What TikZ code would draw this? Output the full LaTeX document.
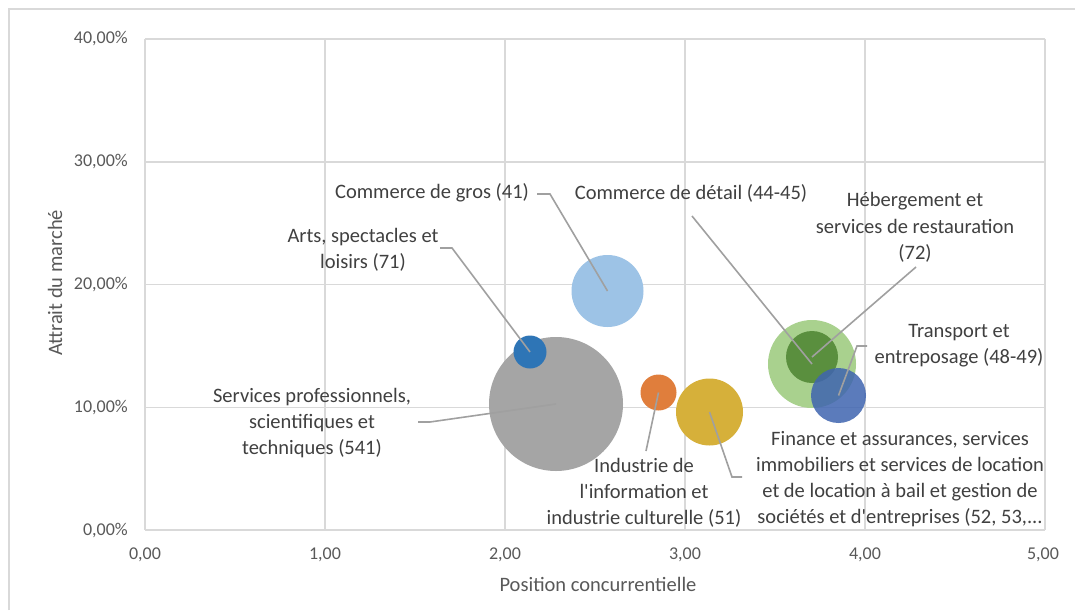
\documentclass[tikz,border=0pt]{standalone}
\usepackage{fontspec}
\setmainfont{Carlito}[Ligatures=TeXOff]
\definecolor{gridc}{HTML}{D9D9D9}
\definecolor{txtc}{HTML}{404040}
\definecolor{tickc}{HTML}{595959}
\definecolor{leadc}{HTML}{A0A0A0}
\definecolor{cLightBlue}{HTML}{9DC3E6}
\definecolor{cBlue}{HTML}{2E75B6}
\definecolor{cGray}{HTML}{A5A5A5}
\definecolor{cOrange}{HTML}{E07E3C}
\definecolor{cGold}{HTML}{D6B03A}
\definecolor{cLightGreen}{HTML}{A9D18E}
\definecolor{cDarkGreen}{HTML}{5A8F3E}
\definecolor{cDarkBlue}{HTML}{3F64B0}
\tikzset{
  gridline/.style={draw=gridc, line width=1.5pt},
  bubble/.style={circle, inner sep=0pt, draw=none},
  datalabel/.style={font=\fontsize{20.5}{26.2}\selectfont, text=txtc, align=center, inner sep=0pt},
  ticklabel/.style={font=\fontsize{18}{22}\selectfont, text=tickc, inner sep=0pt},
  axistitle/.style={font=\fontsize{20.5}{25}\selectfont, text=tickc, inner sep=0pt},
  leader/.style={draw=leadc, line width=1.6pt}
}
\begin{document}
\begin{tikzpicture}[x=1pt,y=-1pt]
\useasboundingbox (0,0) rectangle (1075,610);
\fill[white] (0,0) rectangle (1075,610);
% outer frame
\draw[gridc, line width=2pt] (9,610) -- (9,9) -- (1075,9);
% grid
\foreach \yy in {39,161.75,284.5,407.25,530} {
  \draw[gridline] (145,\yy) -- (1045,\yy);
}
\foreach \xx in {145,325,505,685,865,1045} {
  \draw[gridline] (\xx,39) -- (\xx,530);
}
% tick labels
\node[ticklabel, anchor=east] (y40) at (128,39) {40,00\%};
\node[ticklabel, anchor=east] (y30) at (128,162) {30,00\%};
\node[ticklabel, anchor=east] (y20) at (128,285) {20,00\%};
\node[ticklabel, anchor=east] (y10) at (128,408) {10,00\%};
\node[ticklabel, anchor=east] (y0) at (128,531) {0,00\%};
\node[ticklabel] (x0) at (145,555) {0,00};
\node[ticklabel] (x1) at (325,555) {1,00};
\node[ticklabel] (x2) at (505,555) {2,00};
\node[ticklabel] (x3) at (685,555) {3,00};
\node[ticklabel] (x4) at (865,555) {4,00};
\node[ticklabel] (x5) at (1043,555) {5,00};
\node[axistitle, rotate=90] (ytitle) at (55,283) {Attrait du marché};
\node[axistitle] (xtitle) at (598,584) {Position concurrentielle};
% bubbles
\node[bubble, fill=cLightBlue, minimum size=72pt] (bGros) at (607.5,291) {};
\node[bubble, fill=cGray, minimum size=134pt] (bServ) at (556,404) {};
\node[bubble, fill=cBlue, minimum size=33pt] (bArts) at (530,352) {};
\node[bubble, fill=cOrange, minimum size=36pt] (bInd) at (658.5,392.5) {};
\node[bubble, fill=cGold, minimum size=67pt] (bFin) at (709.5,412) {};
\node[bubble, fill=cLightGreen, minimum size=88pt] (bDet) at (812,364) {};
\node[bubble, fill=cDarkGreen, minimum size=52pt] (bHeb) at (812,357) {};
\node[bubble, fill=cDarkBlue, fill opacity=0.85, minimum size=55pt] (bTra) at (838.5,395.5) {};
% data labels
\node[datalabel] (lGros) at (432,193) {Commerce de gros (41)};
\node[datalabel] (lDet) at (691,193) {Commerce de détail (44-45)};
\node[datalabel] (lHeb) at (915,227.5) {Hébergement et\\services de restauration\\(72)};
\node[datalabel] (lArts) at (363,250) {Arts, spectacles et\\loisirs (71)};
\node[datalabel] (lTra) at (959,346) {Transport et\\entreposage (48-49)};
\node[datalabel] (lServ) at (312,423) {Services professionnels,\\scientifiques et\\techniques (541)};
\node[datalabel] (lInd) at (644,493) {Industrie de\\l'information et\\industrie culturelle (51)};
\node[datalabel] (lFin) at (900,479) {Finance et assurances, services\\immobiliers et services de location\\et de location à bail et gestion de\\sociétés et d'entreprises (52, 53,...};
% leader lines
\coordinate (gGros1) at (537,194); \coordinate (gGros2) at (550,194);
\coordinate (gArts1) at (440,248); \coordinate (gArts2) at (452,248);
\coordinate (gDet1) at (692,216);
\coordinate (gHeb1) at (916,267);
\coordinate (gTra1) at (867,346); \coordinate (gTra2) at (857,346);
\coordinate (gServ1) at (418,422); \coordinate (gServ2) at (430,422);
\coordinate (gInd1) at (646,451);
\coordinate (gFin1) at (742,477); \coordinate (gFin2) at (732,477);
\draw[leader] (gGros1) -- (gGros2) -- (bGros.center);
\draw[leader] (gArts1) -- (gArts2) -- (bArts.center);
\draw[leader] (gDet1) -- (bDet.center);
\draw[leader] (gHeb1) -- (bHeb.center);
\draw[leader] (gTra1) -- (gTra2) -- (bTra.center);
\draw[leader] (gServ1) -- (gServ2) -- (bServ.center);
\draw[leader] (gInd1) -- (bInd.center);
\draw[leader] (gFin1) -- (gFin2) -- (bFin.center);
\end{tikzpicture}
\end{document}
